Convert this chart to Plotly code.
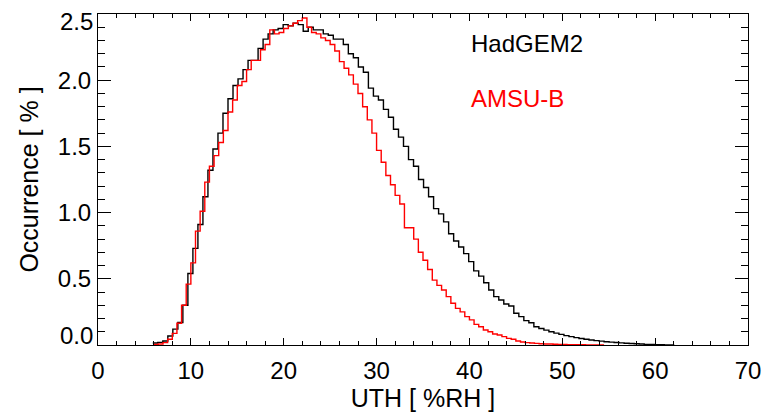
import numpy as np
import plotly.graph_objects as go

# HadGEM2 histogram (bin width 0.54 %RH, first bin starts at 5.9)
had_start, had_width = 5.9, 0.54
hadgem2 = [0.015, 0.02, 0.03, 0.068, 0.12, 0.17, 0.30, 0.54, 0.73, 0.91,
           1.12, 1.32, 1.48, 1.60, 1.75, 1.86, 1.96, 2.01, 2.08, 2.15,
           2.15, 2.24, 2.31, 2.35, 2.38, 2.39, 2.42, 2.41, 2.43, 2.42,
           2.37, 2.40, 2.38, 2.38, 2.35, 2.34, 2.31, 2.31, 2.27, 2.20,
           2.17, 2.10, 2.06, 1.94, 1.88, 1.85, 1.78, 1.72, 1.63, 1.57,
           1.50, 1.40, 1.35, 1.25, 1.19, 1.12, 1.03, 0.99, 0.93, 0.84,
           0.785, 0.74, 0.69, 0.63, 0.56, 0.52, 0.47, 0.415, 0.365, 0.34,
           0.31, 0.295, 0.24, 0.214, 0.184, 0.168, 0.138, 0.125, 0.112, 0.10,
           0.09, 0.08, 0.071, 0.063, 0.056, 0.049, 0.043, 0.038, 0.033, 0.029,
           0.025, 0.022, 0.019, 0.016, 0.013, 0.011, 0.009, 0.007, 0.005, 0.004,
           0.003, 0.002, 0.001, 0.001]

# AMSU-B histogram (bin width 0.5 %RH, first bin starts at 6.0)
amsu_start, amsu_width = 6.0, 0.5
amsub = [0.005, 0.0075, 0.018, 0.043, 0.088, 0.164, 0.30, 0.46, 0.62, 0.86,
         1.01, 1.23, 1.35, 1.43, 1.53, 1.62, 1.76, 1.85, 1.96, 1.99,
         2.08, 2.15, 2.15, 2.23, 2.27, 2.38, 2.35, 2.36, 2.39, 2.41,
         2.43, 2.45, 2.47, 2.40, 2.36, 2.35, 2.32, 2.30, 2.27, 2.22,
         2.14, 2.09, 2.04, 1.97, 1.90, 1.80, 1.70, 1.60, 1.47, 1.38,
         1.28, 1.21, 1.13, 1.065, 0.886, 0.886, 0.80, 0.70, 0.64, 0.57,
         0.49, 0.45, 0.415, 0.365, 0.315, 0.277, 0.25, 0.214, 0.19, 0.156,
         0.138, 0.113, 0.10, 0.083, 0.075, 0.063, 0.05, 0.043, 0.03, 0.023,
         0.018, 0.015, 0.012, 0.010, 0.008, 0.007, 0.006, 0.005, 0.004, 0.003,
         0.003, 0.002, 0.002, 0.001, 0.001, 0.001, 0.0005]

# y labels; the two end labels sit just inside the frame as in IDL plots
y_inner = [0.5, 1.0, 1.5, 2.0]
y_ends = [0.0, 2.5]


def step_xy(start, width, vals):
    edges = np.round(start + width * np.arange(len(vals) + 1), 3)
    return edges, list(vals) + [vals[-1]]


fnt = "Liberation Sans, Arial, sans-serif"

hx, hy = step_xy(had_start, had_width, hadgem2)
ax_, ay = step_xy(amsu_start, amsu_width, amsub)

data = [go.Scatter(x=hx, y=hy, mode='lines', line_shape='hv',
                   line=dict(color='black', width=1.4), name='HadGEM2'),
        go.Scatter(x=ax_, y=ay, mode='lines', line_shape='hv',
                   line=dict(color='#ff0000', width=1.4), name='AMSU-B')]

xticks = dict(range=[0, 70], dtick=10, ticks='inside', ticklen=7,
              tickcolor='black', showgrid=False, zeroline=False,
              showline=True, linecolor='black', linewidth=1, automargin=False,
              ticklabeloverflow='allow',
              minor=dict(dtick=2, ticks='inside', ticklen=4,
                         tickcolor='black', showgrid=False))
yticks = dict(range=[0, 2.5], tickvals=y_inner, tickformat='.1f',
              ticks='inside', ticklen=13, tickcolor='black', showgrid=False,
              zeroline=False, showline=True, linecolor='black', linewidth=1,
              automargin=False,
              minor=dict(dtick=0.1, ticks='inside', ticklen=7,
                         tickcolor='black', showgrid=False))

annots = [dict(x=40, y=2.28, xref='x', yref='y', text='HadGEM2',
               showarrow=False, xanchor='left',
               font=dict(size=24, color='black')),
          dict(x=40, y=1.865, xref='x', yref='y', text='AMSU-B',
               showarrow=False, xanchor='left',
               font=dict(size=24, color='#ff0000'))]
for v in y_ends:
    annots.append(dict(x=0, y=v, xref='paper', yref='y', text=f'{v:.1f}',
                       showarrow=False, xanchor='right',
                       yanchor='bottom' if v == 0 else 'top',
                       xshift=-3, yshift=-6 if v == 0 else 8,
                       font=dict(size=24, color='black')))

layout = go.Layout(
    width=767, height=412,
    margin=dict(l=98, r=19, t=14, b=67),
    paper_bgcolor='white', plot_bgcolor='white',
    showlegend=False,
    font=dict(family=fnt, size=24, color='black'),
    xaxis=dict(**xticks, ticklabelstandoff=4,
               title=dict(text='UTH [ %RH ]', font=dict(size=25), standoff=12)),
    yaxis=dict(**yticks, ticklabelstandoff=1,
               title=dict(text='Occurrence [ % ]', font=dict(size=25),
                          standoff=12)),
    # mirrored axes so the top and right sides carry minor ticks too
    xaxis2=dict(**xticks, overlaying='x', side='top', showticklabels=False),
    yaxis2=dict(**yticks, overlaying='y', side='right', showticklabels=False),
    annotations=annots)

fig = go.Figure(data=data, layout=layout)
# invisible trace to switch on the mirror axes
fig.add_trace(go.Scatter(x=[0], y=[0], xaxis='x2', yaxis='y2', mode='markers',
                         marker=dict(opacity=0), hoverinfo='skip'))
# drop the default 8px page margin so the figure fills the window
fig.write_html("out.html", config={'displayModeBar': False},
               post_script="document.body.style.margin='0';")
